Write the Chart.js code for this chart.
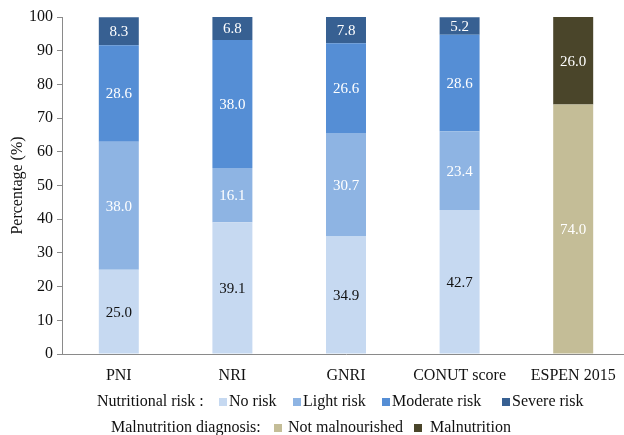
<!DOCTYPE html>
<html>
<head>
<meta charset="utf-8">
<script src="https://cdn.jsdelivr.net/npm/chart.js@4/dist/chart.umd.min.js"></script>
<style>
  html, body { margin: 0; padding: 0; background: #fff; overflow: hidden; }
  #wrap { position: relative; width: 624px; height: 435px; overflow: hidden; }
  #chart { position: absolute; left: 0; top: 0; }
  .lg { position: absolute; font-family: "Liberation Serif", "Times New Roman", serif; font-size: 16px; color: #111; white-space: nowrap; line-height: 18px; }
  .sw { position: absolute; width: 8px; height: 8px; }
</style>
</head>
<body>
<div id="wrap">
  <canvas id="chart" width="630" height="435" style="width:630px;height:435px"></canvas>
  <div id="legend"></div>
</div>
<script>
// Scoring tools compared on the x axis
const categories = ['PNI', 'NRI', 'GNRI', 'CONUT score', 'ESPEN 2015'];

// Nutritional risk shares (%) per tool; ESPEN 2015 has no risk grading
const noRisk       = [25.0, 39.1, 34.9, 42.7, null];
const lightRisk    = [38.0, 16.1, 30.7, 23.4, null];
const moderateRisk = [28.6, 38.0, 26.6, 28.6, null];
const severeRisk   = [8.3, 6.8, 7.8, 5.2, null];

// Malnutrition diagnosis shares (%), ESPEN 2015 only
const notMalnourished = [null, null, null, null, 74.0];
const malnutrition    = [null, null, null, null, 26.0];

const yTicks = [0, 10, 20, 30, 40, 50, 60, 70, 80, 90, 100];

const FONT = '"Liberation Serif", "Times New Roman", serif';

const series = [
  { label: 'No risk',          data: noRisk,          color: '#C6D9F1', text: '#111111' },
  { label: 'Light risk',       data: lightRisk,       color: '#8EB4E3', text: '#ffffff' },
  { label: 'Moderate risk',    data: moderateRisk,    color: '#558ED5', text: '#ffffff' },
  { label: 'Severe risk',      data: severeRisk,      color: '#376092', text: '#ffffff' },
  { label: 'Not malnourished', data: notMalnourished, color: '#C4BD97', text: '#ffffff' },
  { label: 'Malnutrition',     data: malnutrition,    color: '#4A452A', text: '#ffffff' }
];

// Writes each segment's value in the middle of its bar piece
const segmentLabels = {
  id: 'segmentLabels',
  afterDatasetsDraw(chart) {
    const ctx = chart.ctx;
    ctx.save();
    ctx.font = '15px ' + FONT;
    ctx.textAlign = 'center';
    ctx.textBaseline = 'middle';
    chart.data.datasets.forEach((ds, i) => {
      const meta = chart.getDatasetMeta(i);
      meta.data.forEach((el, j) => {
        const v = ds.data[j];
        if (v === null || v === undefined) return;
        ctx.fillStyle = series[i].text;
        ctx.fillText(v.toFixed(1), el.x, (el.y + el.base) / 2 + 1);
      });
    });
    ctx.restore();
  }
};

new Chart(document.getElementById('chart'), {
  type: 'bar',
  data: {
    labels: categories,
    datasets: series.map(s => ({
      label: s.label,
      data: s.data,
      backgroundColor: s.color,
      borderWidth: 0,
      stack: 'all',
      barPercentage: 0.352,
      categoryPercentage: 1.0
    }))
  },
  options: {
    responsive: false,
    animation: false,
    layout: { padding: { top: 17, left: 0, right: 0, bottom: 0 } },
    plugins: {
      legend: { display: false },
      tooltip: { enabled: false }
    },
    scales: {
      x: {
        stacked: true,
        grid: { display: false, drawTicks: false },
        border: { display: true, color: '#8a8a8a', width: 1 },
        ticks: { color: '#111', font: { family: FONT, size: 16 }, padding: 12 },
        afterFit(s) { s.height = 81; }
      },
      y: {
        stacked: true,
        min: 0,
        max: 100,
        afterBuildTicks(s) { s.ticks = yTicks.map(v => ({ value: v })); },
        grid: { drawOnChartArea: false, drawTicks: true, tickLength: 5, color: '#8a8a8a' },
        border: { display: true, color: '#8a8a8a', width: 1 },
        ticks: { color: '#111', font: { family: FONT, size: 16 }, padding: 4 },
        title: { display: true, text: 'Percentage (%)', color: '#111', font: { family: FONT, size: 16 }, padding: { top: 8, bottom: 4 } },
        afterFit(s) { s.width = 62; }
      }
    }
  },
  plugins: [segmentLabels]
});

// Two-row legend below the axis
const legendRows = [
  { y: 392, title: 'Nutritional risk :', tx: 97, items: [
    { i: 0, sx: 219, tx: 229 }, { i: 1, sx: 293, tx: 303 },
    { i: 2, sx: 382, tx: 392 }, { i: 3, sx: 502, tx: 512 } ] },
  { y: 418, title: 'Malnutrition diagnosis:', tx: 111, items: [
    { i: 4, sx: 274, tx: 288 }, { i: 5, sx: 414, tx: 430 } ] }
];
const lg = document.getElementById('legend');
legendRows.forEach(row => {
  const t = document.createElement('div');
  t.className = 'lg';
  t.style.left = row.tx + 'px';
  t.style.top = row.y + 'px';
  t.textContent = row.title;
  lg.appendChild(t);
  row.items.forEach(it => {
    const sw = document.createElement('div');
    sw.className = 'sw';
    sw.style.left = it.sx + 'px';
    sw.style.top = (row.y + 6) + 'px';
    sw.style.background = series[it.i].color;
    lg.appendChild(sw);
    const l = document.createElement('div');
    l.className = 'lg';
    l.style.left = it.tx + 'px';
    l.style.top = row.y + 'px';
    l.textContent = series[it.i].label;
    lg.appendChild(l);
  });
});
</script>
</body>
</html>
